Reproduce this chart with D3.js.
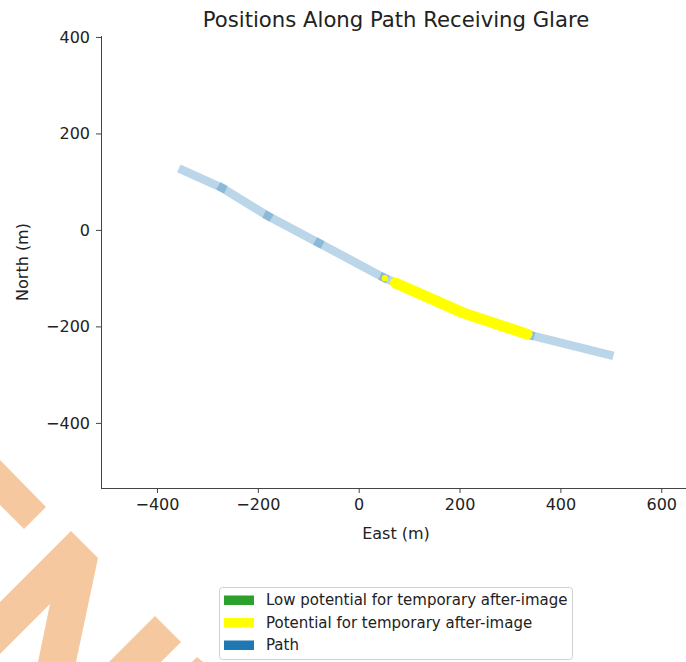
<!DOCTYPE html>
<html>
<head>
<meta charset="utf-8">
<script src="https://cdn.jsdelivr.net/npm/d3@7"></script>
<style>
  html, body { margin: 0; padding: 0; background: #fff; }
  svg { display: block; font-family: "DejaVu Sans", sans-serif; }
</style>
</head>
<body>
<svg id="chart" width="686" height="662"></svg>
<script>
// Path centreline vertices (metres east / north of the reference point)
const pathEast  = [-349, -271, -180, -79, 50, 207, 340, 497];
const pathNorth = [124, 87, 29, -27, -99, -172, -218, -259];

// Positions along the path that receive glare (potential for after-image)
const glareEast  = [73, 207, 334];
const glareNorth = [-110, -172, -216];
// Isolated glare position just before the main run
const glareSpotEast  = [52];
const glareSpotNorth = [-100];

const xTicks = [-400, -200, 0, 200, 400, 600];
const yTicks = [400, 200, 0, -200, -400];

const legendLabels = [
  "Low potential for temporary after-image",
  "Potential for temporary after-image",
  "Path"
];
const legendColors = ["#2ca02c", "#ffff00", "#1f77b4"];

const svg = d3.select("#chart");

// Decorative background bands in the lower-left corner
const bands = [
  [[0, 460], [46, 507], [24, 529], [0, 505]],
  [[0, 602], [71, 531], [98, 558], [76, 662], [38, 662], [50, 604], [0, 654]],
  [[155, 616], [181, 642], [161, 662], [109, 662]],
  [[197, 657], [203, 662], [192, 662]]
];
svg.append("g").selectAll("polygon").data(bands).join("polygon")
  .attr("points", d => d.map(p => p.join(",")).join(" "))
  .attr("fill", "#f6c8a0");

const plot = { left: 101, right: 690, top: 36, bottom: 488 };

const x = d3.scaleLinear().domain([-511, 657]).range([plot.left, plot.right]);
const y = d3.scaleLinear().domain([-535, 402]).range([plot.bottom, plot.top]);

// Axes (left and bottom spines only)
const fmt = d3.format("");
const xAxis = svg.append("g")
  .attr("transform", `translate(0,${plot.bottom})`)
  .call(d3.axisBottom(x).tickValues(xTicks).tickSize(5).tickPadding(6).tickFormat(fmt).tickSizeOuter(0));
const yAxis = svg.append("g")
  .attr("transform", `translate(${plot.left},0)`)
  .call(d3.axisLeft(y).tickValues(yTicks).tickSize(5).tickPadding(6).tickFormat(fmt).tickSizeOuter(0));

[xAxis, yAxis].forEach(g => {
  g.select(".domain").attr("stroke", "#444").attr("stroke-width", 1);
  g.selectAll(".tick line").attr("stroke", "#444");
  g.selectAll(".tick text")
    .attr("fill", "#222")
    .style("font-family", "DejaVu Sans, sans-serif")
    .style("font-size", "16px");
});
// spines cover the full plot extent
xAxis.select(".domain").attr("d", `M${plot.left},0.5H${plot.right}`);
yAxis.select(".domain").attr("d", `M0.5,${plot.top}V${plot.bottom}`);

// Title and axis labels
svg.append("text")
  .attr("x", 396).attr("y", 27)
  .attr("text-anchor", "middle")
  .attr("fill", "#222")
  .style("font-size", "21.2px")
  .text("Positions Along Path Receiving Glare");

svg.append("text")
  .attr("x", 396).attr("y", 539)
  .attr("text-anchor", "middle")
  .attr("fill", "#222")
  .style("font-size", "16px")
  .text("East (m)");

svg.append("text")
  .attr("transform", `translate(28,${(plot.top + plot.bottom) / 2}) rotate(-90)`)
  .attr("text-anchor", "middle")
  .attr("fill", "#222")
  .style("font-size", "16px")
  .text("North (m)");

// Path drawn segment by segment; translucent square caps overlap at vertices
const pathPts = pathEast.map((e, i) => [e, pathNorth[i]]);
const segs = d3.pairs(pathPts);
const gPlot = svg.append("g");
gPlot.selectAll("line.seg").data(segs).join("line")
  .attr("class", "seg")
  .attr("x1", d => x(d[0][0])).attr("y1", d => y(d[0][1]))
  .attr("x2", d => x(d[1][0])).attr("y2", d => y(d[1][1]))
  .attr("stroke", "#1f77b4")
  .attr("stroke-opacity", 0.3)
  .attr("stroke-width", 8.5)
  .attr("stroke-linecap", "square");

// Glare run
const glarePts = glareEast.map((e, i) => [e, glareNorth[i]]);
gPlot.append("path")
  .attr("d", d3.line().x(d => x(d[0])).y(d => y(d[1]))(glarePts))
  .attr("fill", "none")
  .attr("stroke", "#ffff00")
  .attr("stroke-width", 11)
  .attr("stroke-linecap", "round")
  .attr("stroke-linejoin", "round");

gPlot.selectAll("circle.spot").data(glareSpotEast.map((e, i) => [e, glareSpotNorth[i]])).join("circle")
  .attr("class", "spot")
  .attr("cx", d => x(d[0])).attr("cy", d => y(d[1]))
  .attr("r", 3.2)
  .attr("fill", "#ffff00");

// Legend
const lg = svg.append("g").attr("transform", "translate(219,587)");
lg.append("rect")
  .attr("x", 0.5).attr("y", 0.5)
  .attr("width", 353).attr("height", 72)
  .attr("rx", 3)
  .attr("fill", "#fff")
  .attr("stroke", "#d0d0d0");
const rows = lg.selectAll("g.row").data(legendLabels).join("g")
  .attr("class", "row")
  .attr("transform", (d, i) => `translate(0,${13 + i * 22.5})`);
rows.append("rect")
  .attr("x", 5).attr("y", -4.5)
  .attr("width", 30).attr("height", 9.5)
  .attr("fill", (d, i) => legendColors[i]);
rows.append("text")
  .attr("x", 47).attr("y", 0)
  .attr("dy", "0.35em")
  .attr("fill", "#222")
  .style("font-size", "15px")
  .text(d => d);
</script>
</body>
</html>
